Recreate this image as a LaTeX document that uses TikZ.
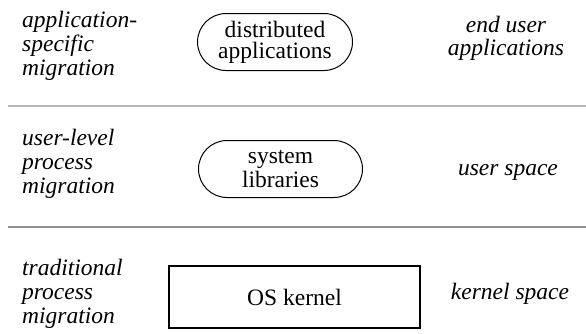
\documentclass[tikz,border=0pt]{standalone}
\usepackage{fontspec}
\setmainfont{Liberation Serif}
\definecolor{upperrule}{gray}{0.72}
\definecolor{lowerrule}{gray}{0.57}
\tikzset{
  MigrationStyle/.style = { align=left, anchor=base west, inner sep=0pt,
                            font = \fontsize{23.5}{24}\selectfont\itshape },
  SpaceStyle/.style = { align=center, anchor=base, inner sep=0pt,
                        font = \fontsize{23.5}{23}\selectfont\itshape },
  LayerStyle/.style = { draw, rounded corners=28.5pt, minimum height=57pt,
                        inner sep=0pt, align=center, line width=1pt,
                        font = \fontsize{23.5}{21}\selectfont },
  KernelStyle/.style = { draw, line width=2.2pt, minimum width=251pt,
                         minimum height=62pt, inner sep=0pt,
                         font = \fontsize{23.5}{24}\selectfont },
  RuleStyle/.style = { line width=2pt } }

\begin{document}
\begin{tikzpicture}[x=1pt,y=-1pt]
  \useasboundingbox (0,0) rectangle (586,333);
  % anchored on the baseline of the last line
  \node[MigrationStyle](AM) at (22,75) {application-\\specific\\migration};
  \node[MigrationStyle](UM) at (22,193) {user-level\\process\\migration};
  \node[MigrationStyle](TM) at (22,323) {traditional\\process\\migration};
  \node[LayerStyle, minimum width=155pt](DA) at (275,42) {distributed\\applications};
  \node[LayerStyle, minimum width=164pt,
        font=\fontsize{23.5}{24}\selectfont](SL) at (280.5,169) {system\\libraries};
  \node[KernelStyle](OS) at (294.5,297) {OS kernel};
  \node[SpaceStyle](EU) at (506,55) {end user\\applications};
  \node[SpaceStyle](US) at (508,175) {user space};
  \node[SpaceStyle](KS) at (510,299) {kernel space};
  \coordinate (R1a) at (8,106);
  \coordinate (R1b) at (586,106);
  \coordinate (R2a) at (8,227);
  \coordinate (R2b) at (586,227);
  \draw[RuleStyle, upperrule](R1a) -- (R1b);
  \draw[RuleStyle, lowerrule](R2a) -- (R2b);
\end{tikzpicture}
\end{document}
